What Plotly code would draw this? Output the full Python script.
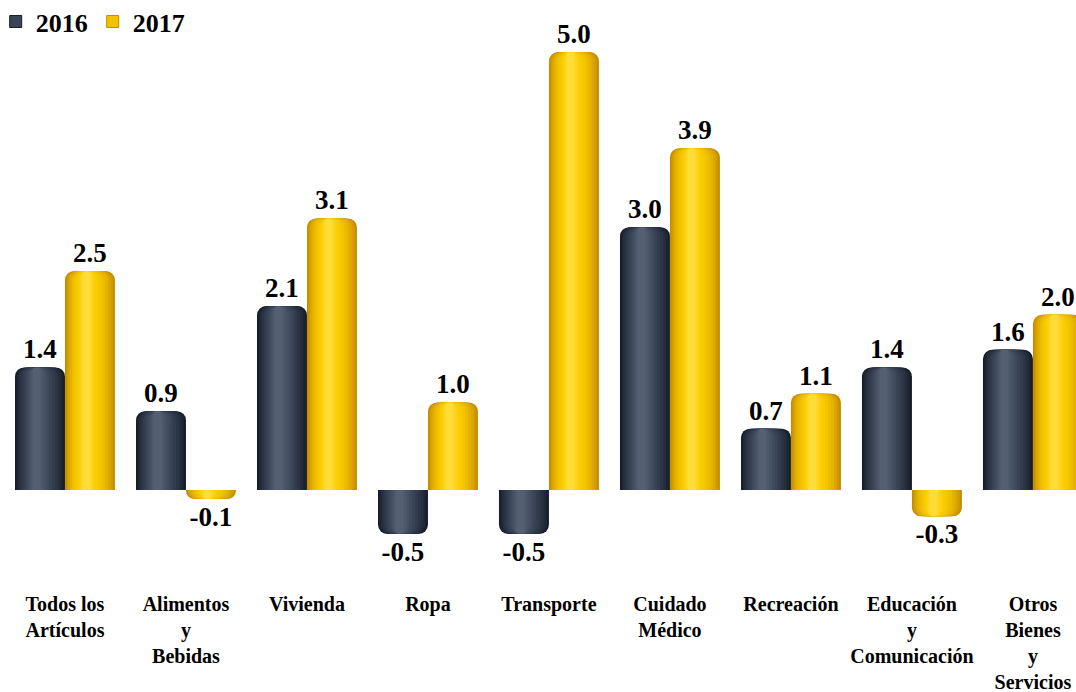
import plotly.graph_objects as go

# Categories and yearly values
categories = [
    "Todos los<br>Artículos",
    "Alimentos<br>y<br>Bebidas",
    "Vivienda",
    "Ropa",
    "Transporte",
    "Cuidado<br>Médico",
    "Recreación",
    "Educación<br>y<br>Comunicación",
    "Otros<br>Bienes<br>y<br>Servicios",
]
values_2016 = [1.4, 0.9, 2.1, -0.5, -0.5, 3.0, 0.7, 1.4, 1.6]
values_2017 = [2.5, -0.1, 3.1, 1.0, 5.0, 3.9, 1.1, -0.3, 2.0]

FONT = "Liberation Serif"
BAR_W = 0.413          # width of one bar in category units
HILITE = 0.42          # horizontal position of the highlight across a bar

# Colour layers from the outer edge towards the highlight (cylinder shading)
shades_2016 = ["#171d29", "#1e2533", "#252e3d", "#2c3546", "#333c4e",
               "#394356", "#3f4a5d", "#465164", "#4d586b", "#546072"]
shades_2017 = ["#c48c00", "#d19a00", "#dca700", "#e5b200", "#edbc00",
               "#f3c400", "#f8ca00", "#fbcf08", "#fed51c", "#ffdc38"]
fracs = [1.0, 0.93, 0.85, 0.76, 0.66, 0.56, 0.46, 0.36, 0.26, 0.16]

x = list(range(len(categories)))
fig = go.Figure()


def add_cylinders(values, shades, left, name, legend_color):
    for i, (f, col) in enumerate(zip(fracs, shades)):
        off = left + BAR_W * HILITE * (1 - f)
        outer = i == 0
        fig.add_trace(go.Bar(
            x=x, y=values,
            offset=off, width=BAR_W * f,
            marker=dict(color=col, line=dict(width=0), cornerradius=9),
            name=name,
            showlegend=False,
            texttemplate="%{y:.1f}" if outer else None,
            textposition="outside" if outer else "none",
            textfont=dict(family=FONT, size=27, color="#000000", weight="bold"),
            constraintext="none",
            cliponaxis=False,
            hoverinfo=None if outer else "skip",
        ))
    # legend entry only
    fig.add_trace(go.Bar(
        x=[None], y=[None], name=name,
        marker=dict(color=legend_color, line=dict(width=1, color=shades[0])),
        showlegend=True,
    ))


add_cylinders(values_2016, shades_2016, -BAR_W, "2016", "#3a4455")
add_cylinders(values_2017, shades_2017, 0.0, "2017", "#f2c200")

fig.update_layout(
    width=1076, height=692,
    barmode="overlay",
    plot_bgcolor="white", paper_bgcolor="white",
    margin=dict(l=0, r=0, t=30, b=112, autoexpand=False),
    font=dict(family=FONT, color="#000000"),
    showlegend=True,
    legend=dict(
        orientation="h", x=-0.004, y=1.058, xanchor="left", yanchor="top",
        font=dict(family=FONT, size=26, color="#000000", weight="bold"),
        itemwidth=30, tracegroupgap=0, bgcolor="rgba(0,0,0,0)",
    ),
    xaxis=dict(
        range=[-0.537, 8.356],
        tickmode="array", tickvals=x, ticktext=categories,
        tickfont=dict(family=FONT, size=20, color="#000000", weight="bold"),
        ticklabelstandoff=10,
        showgrid=False, zeroline=False, showline=False, ticks="",
        fixedrange=True, automargin=False,
    ),
    yaxis=dict(
        range=[-1.027, 5.251],
        visible=False, showgrid=False, zeroline=False,
    ),
)

fig.write_html("out.html")
